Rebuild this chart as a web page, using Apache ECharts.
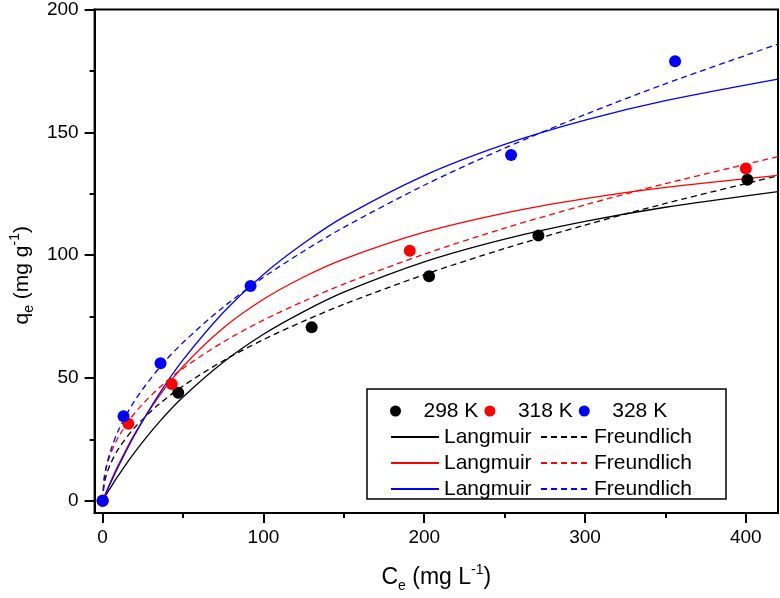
<!DOCTYPE html>
<html>
<head>
<meta charset="utf-8">
<script src="https://cdn.jsdelivr.net/npm/echarts@6/dist/echarts.min.js"></script>
<style>
  html, body { margin: 0; padding: 0; background: #fff; }
  #chart { width: 780px; height: 598px; }
</style>
</head>
<body>
<div id="chart"></div>
<script>
// measured points (Ce, qe)
const pts298 = [[0, 0], [47, 44], [130, 70.6], [203, 91.4], [271, 108], [401, 130.7]];
const pts318 = [[0, 0], [16, 31.3], [43, 47.5], [191, 101.8], [400, 135.3]];
const pts328 = [[0, 0], [13, 34.4], [36, 56], [92, 87.4], [254, 140.8], [356, 178.9]];

// fitted curves at these Ce values
const xFit = [0, 1, 2.5, 5, 10, 20, 35, 50, 75, 100, 125, 150, 200, 250, 300, 350, 420];
const lang298 = [0, 1.11, 2.75, 5.41, 10.5, 19.79, 31.88, 42.19, 56.37, 67.76, 77.0, 84.91, 97.22, 106.48, 113.69, 119.48, 125.89];
const freu298 = [0, 6.9, 10.8, 15.16, 21.27, 29.86, 39.25, 46.73, 56.99, 65.59, 73.1, 79.98, 92.05, 102.67, 112.25, 121.03, 132.31];
const lang318 = [0, 1.62, 4.0, 7.81, 14.91, 27.33, 42.52, 54.67, 70.29, 82.0, 91.1, 98.4, 109.33, 117.14, 123.0, 127.56, 132.46];
const freu318 = [0, 9.3, 14.03, 19.16, 26.15, 35.7, 45.9, 53.87, 64.63, 73.54, 81.2, 88.22, 100.38, 110.97, 120.44, 129.07, 140.08];
const lang328 = [0, 1.51, 3.73, 7.34, 14.24, 26.85, 43.28, 57.31, 76.62, 92.14, 104.8, 115.56, 132.38, 145.05, 154.93, 162.86, 171.64];
const freu328 = [0, 9.18, 14.49, 20.46, 28.9, 40.81, 53.93, 64.41, 78.82, 90.96, 101.6, 111.31, 128.46, 143.55, 157.21, 169.75, 185.9];

const xMajor = [0, 100, 200, 300, 400];
const xMinor = [50, 150, 250, 350];
const yMajor = [0, 50, 100, 150, 200];
const yMinor = [25, 75, 125, 175];

const FONT = '"Liberation Sans", Arial, sans-serif';
const colors = { '298': '#000000', '318': '#ff0000', '328': '#0000ff' };

const pair = ys => xFit.map((x, i) => [x, ys[i]]);

const chart = echarts.init(document.getElementById('chart'), null, { renderer: 'canvas' });

function fitLine(name, ys, color, dashed) {
  return {
    name: name,
    type: 'line',
    data: pair(ys),
    smooth: 0.3,
    symbol: 'none',
    silent: true,
    z: 2,
    lineStyle: { color: color, width: 1.3, type: dashed ? [6, 4] : 'solid' },
    itemStyle: { color: color }
  };
}

function pointSeries(name, data, color) {
  return {
    name: name,
    type: 'scatter',
    data: data,
    symbol: 'circle',
    symbolSize: 12,
    z: 5,
    itemStyle: { color: color, opacity: 1 }
  };
}

const axisText = { fontFamily: FONT, color: '#000' };
function nameRich(size) {
  return {
    n: { fontFamily: FONT, fontSize: size, lineHeight: size + 7, color: '#000' },
    s: { fontFamily: FONT, fontSize: 14, lineHeight: 15, verticalAlign: 'bottom', color: '#000' },
    p: { fontFamily: FONT, fontSize: 14, lineHeight: 15, verticalAlign: 'top', color: '#000' },
    g: { width: 28, height: 10 }
  };
}
const legendText = { fontFamily: FONT, fontSize: 21, lineHeight: 22, color: '#000' };
const hiddenSymbol = { color: 'rgba(0,0,0,0)', borderColor: 'rgba(0,0,0,0)', borderWidth: 0 };

const option = {
  animation: false,
  backgroundColor: '#fff',
  grid: {
    left: 92, right: 2, top: 8, bottom: 84,
    show: true, borderColor: '#000', borderWidth: 2, backgroundColor: 'transparent'
  },
  xAxis: [
    {
      type: 'value', min: -5, max: 420,
      position: 'bottom',
      axisLine: { show: true, onZero: false, lineStyle: { color: '#000', width: 2 } },
      axisTick: { show: true, customValues: xMajor, length: 10, lineStyle: { color: '#000', width: 2 } },
      axisLabel: { customValues: xMajor, fontSize: 19, margin: 15, ...axisText },
      splitLine: { show: false },
      name: '{n|C}{s|e}{n| (mg L}{p|-1}{n|)}',
      nameLocation: 'middle',
      nameGap: 50,
      nameTextStyle: { rich: nameRich(23) }
    },
    {
      type: 'value', min: -5, max: 420,
      position: 'bottom',
      axisLine: { show: false, onZero: false },
      axisTick: { show: true, customValues: xMinor, length: 5, lineStyle: { color: '#000', width: 2 } },
      axisLabel: { show: false },
      splitLine: { show: false }
    }
  ],
  yAxis: [
    {
      type: 'value', min: -5, max: 200,
      position: 'left',
      axisLine: { show: true, onZero: false, lineStyle: { color: '#000', width: 2 } },
      axisTick: { show: true, customValues: yMajor, length: 10, lineStyle: { color: '#000', width: 2 } },
      axisLabel: { customValues: yMajor, fontSize: 19, margin: 16, ...axisText },
      splitLine: { show: false },
      name: '{n|q}{s|e}{n| (mg g}{p|-1}{n|)}{g|}',
      nameLocation: 'middle',
      nameRotate: 90,
      nameGap: 57,
      nameTextStyle: { rich: nameRich(21) }
    },
    {
      type: 'value', min: -5, max: 200,
      position: 'left',
      axisLine: { show: false, onZero: false },
      axisTick: { show: true, customValues: yMinor, length: 5, lineStyle: { color: '#000', width: 2 } },
      axisLabel: { show: false },
      splitLine: { show: false }
    }
  ],
  legend: [
    {
      data: ['298 K', '318 K', '328 K'],
      orient: 'horizontal',
      left: 385, top: 395,
      itemWidth: 46, itemHeight: 11, itemGap: 6,
      icon: 'circle',
      selectedMode: false,
      textStyle: legendText
    },
    {
      data: ['L298', 'L318', 'L328'],
      orient: 'vertical',
      left: 385, top: 421,
      itemWidth: 48, itemHeight: 14, itemGap: 4,
      itemStyle: hiddenSymbol,
      selectedMode: false,
      formatter: () => 'Langmuir',
      textStyle: legendText
    },
    {
      data: ['F298', 'F318', 'F328'],
      orient: 'vertical',
      left: 535, top: 421,
      itemWidth: 48, itemHeight: 14, itemGap: 4,
      itemStyle: hiddenSymbol,
      selectedMode: false,
      formatter: () => 'Freundlich',
      textStyle: legendText
    }
  ],
  graphic: [
    {
      type: 'rect',
      shape: { x: 367, y: 389, width: 359, height: 110 },
      style: { fill: 'none', stroke: '#000', lineWidth: 1.5 },
      z: 10, silent: true
    }
  ],
  series: [
    fitLine('L298', lang298, colors['298'], false),
    fitLine('F298', freu298, colors['298'], true),
    fitLine('L318', lang318, colors['318'], false),
    fitLine('F318', freu318, colors['318'], true),
    fitLine('L328', lang328, colors['328'], false),
    fitLine('F328', freu328, colors['328'], true),
    pointSeries('298 K', pts298, colors['298']),
    pointSeries('318 K', pts318, colors['318']),
    pointSeries('328 K', pts328, colors['328'])
  ]
};

chart.setOption(option);
</script>
</body>
</html>
